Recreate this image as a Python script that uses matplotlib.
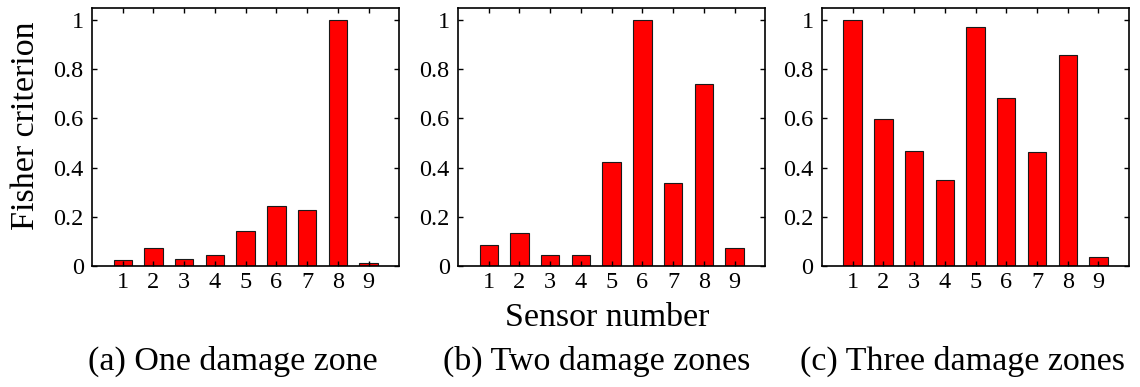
import numpy as np
from matplotlib import pyplot as plt

sensors = [1, 2, 3, 4, 5, 6, 7, 8, 9]
one_zone = [0.023, 0.072, 0.029, 0.045, 0.143, 0.242, 0.227, 1.0, 0.011]
two_zones = [0.086, 0.133, 0.044, 0.044, 0.423, 1.0, 0.337, 0.741, 0.075]
three_zones = [1.0, 0.597, 0.468, 0.349, 0.974, 0.685, 0.463, 0.860, 0.037]
captions = ["(a) One damage zone", "(b) Two damage zones", "(c) Three damage zones"]
yticks = [0, 0.2, 0.4, 0.6, 0.8, 1.0]
ytick_labels = ["0", "0.2", "0.4", "0.6", "0.8", "1"]

plt.rcParams["font.family"] = "Liberation Serif"

fig = plt.figure(figsize=(11.4, 3.87), dpi=100)

lefts = [0.0807, 0.4018, 0.721]
series = [one_zone, two_zones, three_zones]
caption_x = [0.204, 0.523, 0.844]

for left, vals in zip(lefts, series):
    ax = fig.add_axes([left, 0.3127, 0.2695, 0.667])
    ax.bar(sensors, vals, width=0.6, color="red", edgecolor="#1a1a1a", linewidth=0.8)
    ax.set_xlim(0, 10)
    ax.set_ylim(0, 1.05)
    ax.set_xticks(sensors)
    ax.set_yticks(yticks)
    ax.set_yticklabels(ytick_labels)
    ax.tick_params(direction="in", top=True, right=True, length=3.5, width=1,
                   labelsize=17.5)
    ax.tick_params(axis="y", pad=6)
    ax.tick_params(axis="x", pad=4)
    for sp in ax.spines.values():
        sp.set_linewidth(1.2)

fig.text(0.023, 0.675, "Fisher criterion", rotation=90, fontsize=24.5,
         ha="center", va="center")
fig.text(0.533, 0.178, "Sensor number", fontsize=24.5, ha="center", va="center")
for cx, cap in zip(caption_x, captions):
    fig.text(cx, 0.065, cap, fontsize=24.5, ha="center", va="center")

plt.savefig("out.png", dpi=100)
